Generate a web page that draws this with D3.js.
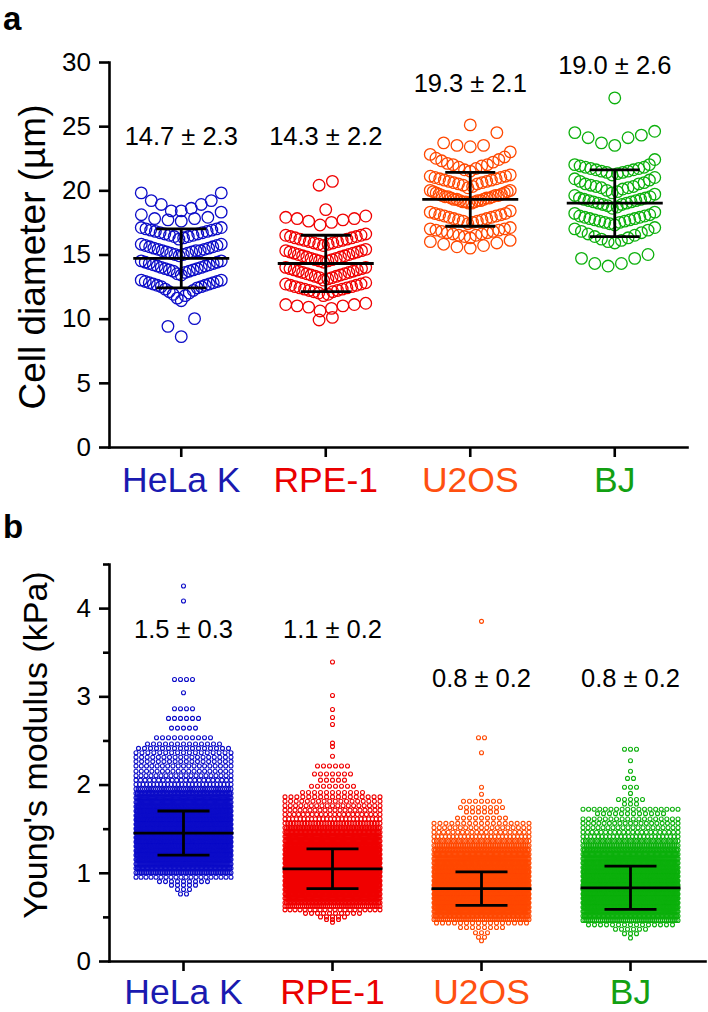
<!DOCTYPE html>
<html lang="en">
<head>
<meta charset="utf-8">
<title>Cell diameter and Young's modulus</title>
<style>
  body { margin: 0; background: #fff; }
  svg text { font-family: "Liberation Sans", Arial, sans-serif; }
  .axis path, .axis line { stroke: #000; stroke-width: 2.6px; }
  .axis path { stroke-linecap: square; }
  .bar { stroke: #000; stroke-width: 2.8px; fill: none; }
</style>
</head>
<body>
<script src="https://d3js.org/d3.v7.min.js"></script>
<script>
// ---- data ----
const cells = ["HeLa K", "RPE-1", "U2OS", "BJ"];
const pointColors = ["#0c0cc8", "#f00000", "#ff4800", "#0cb00c"];
const labelColors = ["#1a1ab0", "#ea0000", "#ff5010", "#12a012"];

// panel a: cell diameter (µm), one inner array per visible row of the swarm
const helaDiameter = [
  [18.4, 18.4, 18.6, 18.9, 18.9, 19.2, 19.2, 19.8, 19.8],
  [17.6, 17.7, 17.8, 17.8, 17.9, 18.1, 18.3],
  [16.2, 16.3, 16.4, 16.4, 16.5, 16.5, 16.6, 16.6, 16.7, 16.7, 16.8, 16.8, 16.9, 16.9, 17.0, 17.0, 17.1, 17.1],
  [14.9, 15.0, 15.0, 15.1, 15.1, 15.2, 15.2, 15.3, 15.3, 15.3, 15.4, 15.4, 15.5, 15.5, 15.6, 15.6, 15.7, 15.7, 15.8, 15.8],
  [13.4, 13.5, 13.6, 13.7, 13.7, 13.8, 13.8, 13.9, 13.9, 14.0, 14.0, 14.1, 14.1, 14.2, 14.2, 14.3, 14.3, 14.4, 14.4, 14.5, 14.5],
  [11.4, 11.6, 11.8, 11.9, 12.0, 12.1, 12.2, 12.3, 12.4, 12.5, 12.5, 12.6, 12.6, 12.7, 12.7, 12.8, 12.8, 12.9, 12.9, 13.0, 13.0],
  [8.6, 9.4, 10.0]
];
const rpeDiameter = [
  [20.4, 20.7],
  [18.5],
  [17.3, 17.5, 17.6, 17.7, 17.8, 17.8, 17.9, 18.0],
  [15.7, 15.8, 15.8, 15.9, 15.9, 16.0, 16.0, 16.1, 16.1, 16.2, 16.2, 16.3, 16.3, 16.4, 16.4, 16.5, 16.5, 16.6],
  [14.4, 14.5, 14.5, 14.6, 14.6, 14.7, 14.7, 14.8, 14.8, 14.9, 14.9, 15.0, 15.0, 15.1, 15.1, 15.2, 15.2, 15.3, 15.3, 15.4],
  [13.0, 13.1, 13.2, 13.2, 13.3, 13.3, 13.4, 13.4, 13.5, 13.5, 13.6, 13.6, 13.7, 13.7, 13.8, 13.8, 13.9, 13.9, 14.0, 14.0],
  [11.8, 11.9, 12.0, 12.1, 12.1, 12.2, 12.2, 12.3, 12.3, 12.4, 12.4, 12.5, 12.5, 12.6, 12.6, 12.7, 12.7, 12.8],
  [10.6, 10.8, 10.9, 11.0, 11.0, 11.1, 11.1, 11.2],
  [9.9, 10.1]
];
const u2osDiameter = [
  [25.1],
  [23.4, 23.5, 23.5, 23.7, 24.5],
  [21.5, 21.6, 21.7, 21.8, 21.9, 22.0, 22.0, 22.1, 22.2, 22.3, 22.4, 22.5, 22.6, 22.8, 23.0],
  [20.2, 20.3, 20.4, 20.5, 20.5, 20.6, 20.6, 20.7, 20.7, 20.8, 20.8, 20.9, 20.9, 21.0, 21.0, 21.1, 21.1, 21.2],
  [19.0, 19.0, 19.1, 19.1, 19.1, 19.2, 19.2, 19.2, 19.3, 19.3, 19.3, 19.4, 19.4, 19.4, 19.5, 19.5, 19.5, 19.6, 19.6, 19.6, 19.7, 19.7, 19.8, 19.8, 19.9, 19.9, 20.0, 20.0],
  [17.4, 17.5, 17.6, 17.6, 17.7, 17.7, 17.8, 17.8, 17.9, 17.9, 18.0, 18.0, 18.1, 18.1, 18.2, 18.2, 18.3, 18.4],
  [16.3, 16.4, 16.5, 16.5, 16.6, 16.6, 16.7, 16.7, 16.8, 16.8, 16.9, 16.9, 17.0, 17.0, 17.1],
  [15.5, 15.6, 15.7, 15.8, 15.9, 16.0, 16.1]
];
const bjDiameter = [
  [27.2],
  [23.5, 23.7, 24.1, 24.1, 24.3, 24.5, 24.6],
  [21.2, 21.3, 21.4, 21.4, 21.5, 21.5, 21.6, 21.6, 21.7, 21.7, 21.8, 21.8, 21.9, 22.0, 22.0, 22.4],
  [19.8, 19.9, 20.0, 20.1, 20.2, 20.2, 20.3, 20.3, 20.4, 20.5, 20.5, 20.6, 20.7, 20.8, 20.9, 21.0],
  [18.6, 18.7, 18.8, 18.9, 18.9, 19.0, 19.0, 19.1, 19.1, 19.2, 19.2, 19.3, 19.3, 19.4, 19.4, 19.5, 19.6, 19.7],
  [17.3, 17.4, 17.5, 17.5, 17.6, 17.6, 17.7, 17.7, 17.8, 17.8, 17.9, 17.9, 18.0, 18.0, 18.1, 18.2, 18.3],
  [15.9, 16.0, 16.1, 16.2, 16.3, 16.4, 16.5, 16.6, 16.7, 16.8, 16.9, 17.0, 17.1],
  [14.1, 14.3, 14.3, 14.7, 14.7, 15.0]
];
const diameterMean = [14.7, 14.3, 19.3, 19.0];
const diameterSd = [2.3, 2.2, 2.1, 2.6];
const diameterLabels = ["14.7 ± 2.3", "14.3 ± 2.2", "19.3 ± 2.1", "19.0 ± 2.6"];
const diameterTicks = [0, 5, 10, 15, 20, 25, 30];

// panel b: Young's modulus (kPa), rows of [value, number of points]
const helaModulus = [
  [4.25, 1], [4.08, 1], [3.19, 4], [3.04, 1], [2.86, 4], [2.75, 6], [2.64, 5], [2.53, 10],
  [2.46, 13], [2.41, 16], [2.36, 17], [2.31, 18], [2.26, 18], [2.21, 19], [2.15, 19], [2.10, 20],
  [2.05, 22], [2.00, 28], [1.95, 45], [1.90, 70], [1.85, 90], [1.80, 105], [1.75, 120], [1.70, 135],
  [1.65, 150], [1.60, 160], [1.55, 170], [1.50, 175], [1.45, 175], [1.40, 170], [1.35, 165], [1.30, 155],
  [1.25, 145], [1.20, 130], [1.15, 115], [1.10, 95], [1.05, 75], [1.00, 55],
  [0.95, 20], [0.90, 9], [0.86, 5], [0.81, 3], [0.76, 2]
];
const rpeModulus = [
  [3.39, 1], [3.01, 1], [2.85, 1], [2.76, 1], [2.68, 1], [2.47, 1], [2.43, 1], [2.32, 1],
  [2.21, 6], [2.12, 7], [2.05, 5], [1.98, 8], [1.91, 11], [1.86, 17], [1.81, 18], [1.76, 19],
  [1.71, 20], [1.66, 22], [1.61, 26], [1.56, 35], [1.51, 60], [1.46, 75], [1.41, 90], [1.36, 105],
  [1.31, 120], [1.26, 135], [1.21, 150], [1.16, 160], [1.11, 170], [1.06, 175], [1.01, 175], [0.96, 170],
  [0.91, 160], [0.86, 145], [0.81, 130], [0.76, 110], [0.71, 90], [0.66, 70], [0.62, 50],
  [0.58, 20], [0.54, 10], [0.50, 5], [0.47, 3], [0.44, 1]
];
const u2osModulus = [
  [3.85, 1], [2.53, 2], [2.36, 1], [1.97, 1], [1.89, 1], [1.81, 7], [1.74, 8], [1.69, 6],
  [1.62, 9], [1.56, 17], [1.51, 19], [1.46, 21], [1.41, 26], [1.36, 40], [1.31, 55], [1.26, 65],
  [1.21, 80], [1.16, 95], [1.11, 110], [1.06, 125], [1.01, 140], [0.96, 155], [0.91, 165], [0.86, 175],
  [0.81, 180], [0.76, 175], [0.71, 165], [0.66, 150], [0.61, 130], [0.56, 105], [0.51, 75], [0.47, 50],
  [0.43, 16], [0.38, 8], [0.32, 3], [0.27, 2], [0.23, 1]
];
const bjModulus = [
  [2.40, 3], [2.27, 1], [2.15, 1], [2.07, 2], [1.97, 3], [1.90, 1], [1.83, 5], [1.78, 3],
  [1.72, 18], [1.67, 12], [1.61, 18], [1.56, 19], [1.51, 20], [1.46, 22], [1.41, 26], [1.36, 40],
  [1.31, 55], [1.26, 65], [1.21, 80], [1.16, 95], [1.11, 110], [1.06, 125], [1.01, 140], [0.96, 155],
  [0.91, 165], [0.86, 175], [0.81, 175], [0.76, 170], [0.71, 160], [0.66, 145], [0.61, 125], [0.56, 100],
  [0.51, 75], [0.46, 50], [0.41, 15], [0.36, 6], [0.31, 3], [0.26, 1]
];
const modulusBarMean = [1.45, 1.045, 0.82, 0.83];
const modulusBarSd = [0.25, 0.225, 0.19, 0.245];
const modulusLabels = ["1.5 ± 0.3", "1.1 ± 0.2", "0.8 ± 0.2", "0.8 ± 0.2"];
const modulusTicks = [0, 1, 2, 3, 4];
const modulusMinorTicks = [0.5, 1.5, 2.5, 3.5, 4.5];

// ---- drawing ----
const svg = d3.select("body").append("svg")
  .attr("width", 708)
  .attr("height", 1012);

// horizontal offsets for n points in a row: closest to centre first
function slots(n, step, maxW) {
  const s = n > 1 ? Math.min(step, maxW / (n - 1)) : 0;
  return d3.range(n).map(j => (j - (n - 1) / 2) * s)
    .sort((a, b) => Math.abs(a) - Math.abs(b) || a - b);
}

function drawPanel(p) {
  const x = d3.scaleBand().domain(cells).range(p.xRange);
  const cx = c => x(c) + x.bandwidth() / 2;
  const y = d3.scaleLinear().domain(p.yDomain).range(p.yRange);
  const g = svg.append("g");

  // points
  g.append("g").selectAll("circle")
    .data(p.points)
    .join("circle")
      .attr("cx", d => cx(cells[d.g]) + d.dx)
      .attr("cy", d => y(d.v))
      .attr("r", p.r)
      .attr("fill", "none")
      .attr("stroke", d => pointColors[d.g])
      .attr("stroke-width", p.sw);

  // mean and SD bars
  const bars = g.append("g").selectAll("g")
    .data(cells)
    .join("g")
      .attr("transform", d => "translate(" + cx(d) + ",0)");
  bars.append("line").attr("class", "bar")
    .attr("x1", -p.meanW).attr("x2", p.meanW)
    .attr("y1", (d, i) => y(p.mean[i])).attr("y2", (d, i) => y(p.mean[i]));
  bars.append("line").attr("class", "bar")
    .attr("x1", 0).attr("x2", 0)
    .attr("y1", (d, i) => y(p.mean[i] - p.sd[i])).attr("y2", (d, i) => y(p.mean[i] + p.sd[i]));
  [-1, 1].forEach(s => {
    bars.append("line").attr("class", "bar")
      .attr("x1", -p.capW).attr("x2", p.capW)
      .attr("y1", (d, i) => y(p.mean[i] + s * p.sd[i]))
      .attr("y2", (d, i) => y(p.mean[i] + s * p.sd[i]));
  });

  // value labels
  g.append("g").selectAll("text")
    .data(p.labels)
    .join("text")
      .attr("x", (d, i) => cx(cells[i]))
      .attr("y", (d, i) => p.labelY[i])
      .attr("text-anchor", "middle")
      .style("font-size", "25.5px")
      .text(d => d);

  // axes
  const gy = g.append("g").attr("class", "axis")
    .attr("transform", "translate(" + p.xRange[0] + ",0)")
    .call(d3.axisLeft(y).tickValues(p.ticks).tickSize(10).tickSizeOuter(0)
      .tickPadding(8).tickFormat(d3.format("d")));
  gy.selectAll("text").style("font-size", "26px").attr("fill", "#000");
  if (p.minorTicks) {
    g.append("g").attr("class", "axis")
      .attr("transform", "translate(" + p.xRange[0] + ",0)")
      .call(d3.axisLeft(y).tickValues(p.minorTicks).tickSize(6).tickSizeOuter(0).tickFormat(""))
      .select(".domain").remove();
  }
  const gx = g.append("g").attr("class", "axis")
    .attr("transform", "translate(0," + p.yRange[0] + ")")
    .call(d3.axisBottom(x).tickSize(10).tickSizeOuter(0).tickPadding(p.xPad));
  gx.selectAll("text")
    .style("font-size", "35.5px")
    .attr("fill", (d, i) => labelColors[i]);

  // axis title and panel letter
  g.append("text")
    .attr("transform", "translate(" + p.titleX + "," + p.titleY + ") rotate(-90)")
    .attr("text-anchor", "middle")
    .style("font-size", p.titleSize + "px")
    .text(p.title);
  g.append("text")
    .attr("x", 3).attr("y", p.letterY)
    .style("font-size", "33px").style("font-weight", "bold")
    .text(p.letter);
}

const pointsA = [];
[helaDiameter, rpeDiameter, u2osDiameter, bjDiameter].forEach((rows, gi) => {
  rows.forEach(row => {
    const vals = row.slice().sort(d3.ascending);
    const off = slots(vals.length, 13.3, 80);
    vals.forEach((v, k) => pointsA.push({g: gi, v: v, dx: off[k]}));
  });
});

const pointsB = [];
[helaModulus, rpeModulus, u2osModulus, bjModulus].forEach((rows, gi) => {
  rows.forEach(([v, n]) => {
    slots(n, 6, 95).forEach(dx => pointsB.push({g: gi, v: v, dx: dx}));
  });
});

drawPanel({
  points: pointsA, r: 5.8, sw: 1.3,
  xRange: [109, 687], yDomain: [0, 30], yRange: [447, 62],
  ticks: diameterTicks, xPad: 10,
  mean: diameterMean, sd: diameterSd, meanW: 48, capW: 25,
  labels: diameterLabels, labelY: [145, 145, 92, 74],
  title: "Cell diameter (µm)", titleX: 45, titleY: 257, titleSize: 37,
  letter: "a", letterY: 30
});

drawPanel({
  points: pointsB, r: 2, sw: 1.1,
  xRange: [109, 705], yDomain: [0, 4.5], yRange: [961, 564],
  ticks: modulusTicks, minorTicks: modulusMinorTicks, xPad: 8,
  mean: modulusBarMean, sd: modulusBarSd, meanW: 50, capW: 26,
  labels: modulusLabels, labelY: [638, 638, 687, 687],
  title: "Young's modulus (kPa)", titleX: 47, titleY: 745, titleSize: 34,
  letter: "b", letterY: 538
});
</script>
</body>
</html>
